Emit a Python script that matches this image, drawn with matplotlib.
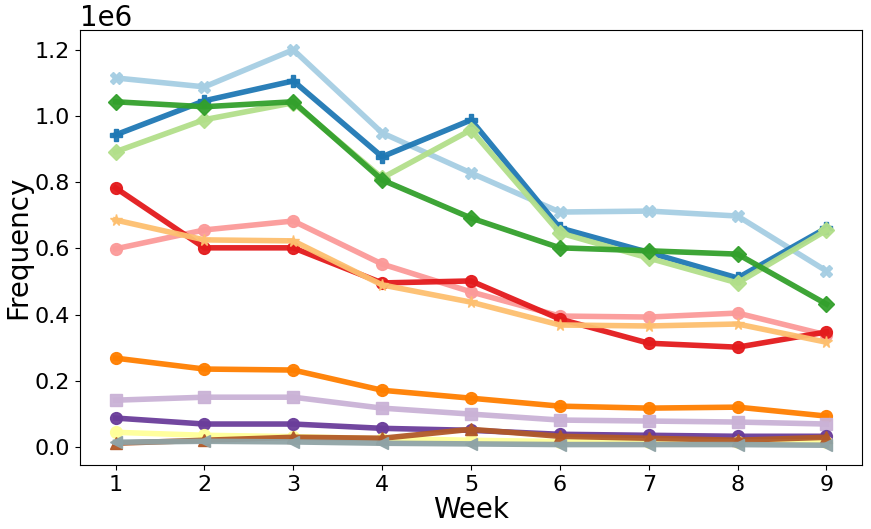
import matplotlib
matplotlib.use("Agg")
import matplotlib.pyplot as plt

weeks = [1, 2, 3, 4, 5, 6, 7, 8, 9]

s_lightblue = [1.115e6, 1.088e6, 1.200e6, 0.949e6, 0.828e6, 0.710e6, 0.713e6, 0.698e6, 0.532e6]
s_blue = [0.943e6, 1.046e6, 1.106e6, 0.877e6, 0.988e6, 0.662e6, 0.588e6, 0.511e6, 0.662e6]
s_lightgreen = [0.892e6, 0.989e6, 1.040e6, 0.813e6, 0.958e6, 0.647e6, 0.571e6, 0.496e6, 0.655e6]
s_green = [1.043e6, 1.028e6, 1.043e6, 0.807e6, 0.692e6, 0.602e6, 0.593e6, 0.583e6, 0.432e6]
s_pink = [0.599e6, 0.656e6, 0.683e6, 0.553e6, 0.469e6, 0.396e6, 0.393e6, 0.405e6, 0.339e6]
s_red = [0.783e6, 0.602e6, 0.602e6, 0.496e6, 0.502e6, 0.387e6, 0.314e6, 0.302e6, 0.348e6]
s_lightorange = [0.686e6, 0.626e6, 0.623e6, 0.490e6, 0.438e6, 0.369e6, 0.366e6, 0.372e6, 0.317e6]
s_orange = [0.269e6, 0.236e6, 0.233e6, 0.172e6, 0.148e6, 0.124e6, 0.118e6, 0.121e6, 0.094e6]
s_lightpurple = [0.142e6, 0.151e6, 0.151e6, 0.118e6, 0.100e6, 0.082e6, 0.079e6, 0.076e6, 0.070e6]
s_purple = [0.088e6, 0.070e6, 0.070e6, 0.057e6, 0.051e6, 0.039e6, 0.036e6, 0.033e6, 0.033e6]
s_yellow = [0.045e6, 0.036e6, 0.032e6, 0.026e6, 0.021e6, 0.017e6, 0.016e6, 0.015e6, 0.015e6]
s_brown = [0.012e6, 0.021e6, 0.030e6, 0.027e6, 0.054e6, 0.033e6, 0.027e6, 0.021e6, 0.030e6]
s_grey = [0.015e6, 0.018e6, 0.016e6, 0.012e6, 0.010e6, 0.008e6, 0.008e6, 0.008e6, 0.006e6]

series = [
    (s_lightblue, '#a6cee3', 'X'),
    (s_blue, '#1f78b4', 'P'),
    (s_lightgreen, '#b2df8a', 'D'),
    (s_green, '#33a02c', 'D'),
    (s_pink, '#fb9a99', 'o'),
    (s_red, '#e31a1c', 'o'),
    (s_lightorange, '#fdbf6f', '*'),
    (s_orange, '#ff7f00', 'o'),
    (s_lightpurple, '#cab2d6', 's'),
    (s_purple, '#6a3d9a', 'o'),
    (s_yellow, '#ffff99', 'o'),
    (s_brown, '#b15928', '^'),
    (s_grey, '#8fa3a6', '<'),
]

fig = plt.figure(figsize=(8.71, 5.29), dpi=100)
ax = fig.add_axes([80/871, 1-465/529, (862-80)/871, (465-30)/529])
for vals, col, mk in series:
    ax.plot(weeks, vals, color=col, marker=mk, linewidth=4, markersize=8.5, alpha=0.95)

ax.set_xticks(weeks)
ax.set_yticks([0, 0.2e6, 0.4e6, 0.6e6, 0.8e6, 1.0e6, 1.2e6])
ax.tick_params(labelsize=16)
ax.yaxis.get_offset_text().set_fontsize(20)
ax.set_xlabel('Week', fontsize=20, labelpad=1)
ax.set_ylabel('Frequency', fontsize=20, labelpad=2)
fig.savefig('out.png', dpi=100)
